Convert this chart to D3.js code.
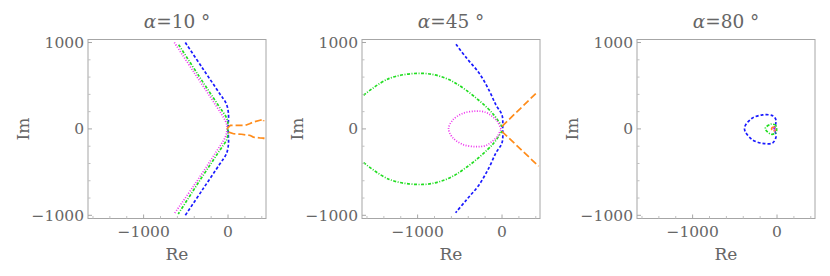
<!DOCTYPE html>
<html>
<head>
<meta charset="utf-8">
<script src="https://cdn.jsdelivr.net/npm/d3@7"></script>
<style>
  body { margin: 0; background: #fff; }
  text { font-family: "DejaVu Serif", serif; fill: #666; }
</style>
</head>
<body>
<div id="chart"></div>
<script>
// panel titles (angle in degrees)
const angles = [10, 45, 80];

const xTicks = [-1000, 0];
const yTicks = [-1000, 0, 1000];
const minorX = [-1600, -1400, -1200, -800, -600, -400, -200, 200, 400];
const minorY = [-800, -600, -400, -200, 200, 400, 600, 800];

// root loci, [Re, Im]
// alpha = 10
const blue10 = [[-506, 1000], [-300, 700], [-100, 410], [-20, 290], [5, 180], [4, 80], [0, 0], [4, -80], [5, -180], [-20, -290], [-100, -410], [-300, -700], [-506, -1000]];
const green10 = [[-585, 975], [-350, 620], [-120, 280], [-15, 120], [0, 40], [-5, 0], [0, -40], [-15, -120], [-120, -280], [-350, -620], [-590, -985]];
const magenta10 = [[-636, 1000], [-400, 650], [-150, 280], [-30, 90], [-12, 30], [-15, -30], [-30, -90], [-150, -280], [-400, -650], [-640, -985]];
const orange10 = [[-12, 2], [27, 41], [120, 42], [205, 41], [255, 60], [300, 79], [380, 100], [422, 110], [422, 90]];
const orange10b = [[7, -37], [66, -56], [160, -62], [264, -76], [300, -95], [380, -105], [422, -107], [422, -125]];

// alpha = 45
const blue45 = [[-545, 979], [-420, 820], [-269, 643], [-150, 440], [-71, 275], [0, 160], [8, 5], [0, -160], [-71, -275], [-150, -440], [-269, -643], [-420, -820], [-550, -970]];
const green45 = [[-1640, 390], [-1335, 585], [-940, 643], [-664, 585], [-427, 449], [-111, 179], [0, 24]];
const green45b = [[-1640, -390], [-1335, -585], [-940, -643], [-664, -585], [-427, -449], [-111, -179], [0, -24]];
const magenta45 = [[-12, 0], [-52, 82], [-111, 140], [-190, 191], [-308, 206], [-467, 179], [-585, 101], [-633, 5], [-585, -101], [-467, -179], [-308, -206], [-190, -191], [-111, -140], [-52, -82], [-12, 0]];
const orange45 = [[0, 30], [422, 430]];
const orange45b = [[0, -30], [434, -432]];

// alpha = 80
const blue80 = [[-20, 43], [-12, 102], [-52, 152], [-171, 162], [-300, 120], [-386, 5], [-300, -120], [-171, -167], [-52, -162], [-12, -92], [-20, -40], [-30, 0], [-20, 43]];
const green80 = [[-12, 43], [-71, 55], [-139, 5], [-71, -61], [-12, -45], [-5, 0], [-12, 43]];
const magenta80 = [[-40, 10], [-25, 5], [-30, -10], [-45, -5], [-40, 10]];
const orange80 = [[-55, 20], [-25, 18], [-20, -15], [-50, -20], [-65, 0], [-55, 20]];

const panels = [
  { series: [
      { pts: blue10, color: '#1a1aff', dash: '3,2' },
      { pts: green10, color: '#22dd22', dash: '3,1.5,1,1.5' },
      { pts: magenta10, color: '#ee33ee', dash: '1,1.6' },
      { pts: orange10, color: '#ff8c1a', dash: '7,3', curve: d3.curveLinear },
      { pts: orange10b, color: '#ff8c1a', dash: '7,3', curve: d3.curveLinear } ] },
  { series: [
      { pts: blue45, color: '#1a1aff', dash: '3,2' },
      { pts: green45, color: '#22dd22', dash: '3,1.5,1,1.5' },
      { pts: green45b, color: '#22dd22', dash: '3,1.5,1,1.5' },
      { pts: magenta45, color: '#ee33ee', dash: '1,1.6' },
      { pts: orange45, color: '#ff8c1a', dash: '7,3', curve: d3.curveLinear },
      { pts: orange45b, color: '#ff8c1a', dash: '7,3', curve: d3.curveLinear } ] },
  { series: [
      { pts: blue80, color: '#1a1aff', dash: '3,2' },
      { pts: green80, color: '#22dd22', dash: '3,1.5,1,1.5' },
      { pts: orange80, color: '#ff8c1a', dash: '3,1.5' },
      { pts: magenta80, color: '#ee33ee', dash: '1,1.2' } ] }
];

const width = 830;
const height = 276;
const frameLefts = [88, 362, 637];
const frameTop = 39.5;
const frameW = 178;
const frameH = 179;

const svg = d3.select('#chart')
  .append('svg')
  .attr('width', width)
  .attr('height', height);

const fmt = (d) => (d < 0 ? '\u2212' + Math.abs(d) : String(d));

panels.forEach((p, i) => {
  const left = frameLefts[i];
  const xScale = d3.scaleLinear().domain([-1659, 450]).range([left, left + frameW]);
  const yScale = d3.scaleLinear().domain([-1037, 1035]).range([frameTop + frameH, frameTop]);

  const g = svg.append('g');

  // clip so curves stay inside the frame
  const clipId = 'clip' + i;
  svg.append('clipPath').attr('id', clipId)
    .append('rect')
    .attr('x', left).attr('y', frameTop)
    .attr('width', frameW).attr('height', frameH);

  const lines = g.append('g').attr('clip-path', `url(#${clipId})`);
  p.series.forEach((s) => {
    const line = d3.line()
      .x((d) => xScale(d[0]))
      .y((d) => yScale(d[1]))
      .curve(s.curve || d3.curveCatmullRom.alpha(0.5));
    lines.append('path')
      .attr('d', line(s.pts))
      .attr('fill', 'none')
      .attr('stroke', s.color)
      .attr('stroke-width', 1.7)
      .attr('stroke-dasharray', s.dash);
  });

  // frame
  g.append('rect')
    .attr('x', left).attr('y', frameTop)
    .attr('width', frameW).attr('height', frameH)
    .attr('fill', 'none')
    .attr('stroke', '#a6a6a6')
    .attr('stroke-width', 1);

  // bottom axis, ticks inward
  const bottom = frameTop + frameH;
  g.selectAll('.xmaj').data(xTicks).join('line')
    .attr('x1', (d) => xScale(d)).attr('x2', (d) => xScale(d))
    .attr('y1', bottom).attr('y2', bottom - 4)
    .attr('stroke', '#a6a6a6');
  g.selectAll('.xmin').data(minorX).join('line')
    .attr('x1', (d) => xScale(d)).attr('x2', (d) => xScale(d))
    .attr('y1', bottom).attr('y2', bottom - 2.5)
    .attr('stroke', '#c0c0c0');
  g.selectAll('.xlab').data(xTicks).join('text')
    .attr('x', (d) => xScale(d))
    .attr('y', bottom + 18)
    .attr('text-anchor', 'middle')
    .attr('font-size', 15.5)
    .text(fmt);

  // left axis
  g.selectAll('.ymaj').data(yTicks).join('line')
    .attr('x1', left).attr('x2', left + 4)
    .attr('y1', (d) => yScale(d)).attr('y2', (d) => yScale(d))
    .attr('stroke', '#a6a6a6');
  g.selectAll('.ymin').data(minorY).join('line')
    .attr('x1', left).attr('x2', left + 2.5)
    .attr('y1', (d) => yScale(d)).attr('y2', (d) => yScale(d))
    .attr('stroke', '#c0c0c0');
  g.selectAll('.ylab').data(yTicks).join('text')
    .attr('x', left - 4)
    .attr('y', (d) => yScale(d))
    .attr('dy', '0.35em')
    .attr('text-anchor', 'end')
    .attr('font-size', 15.5)
    .text(fmt);

  // axis labels
  g.append('text')
    .attr('x', left + frameW / 2)
    .attr('y', 260)
    .attr('text-anchor', 'middle')
    .attr('font-size', 17)
    .text('Re');
  g.append('text')
    .attr('transform', `translate(${left - 59},${frameTop + frameH / 2}) rotate(-90)`)
    .attr('text-anchor', 'middle')
    .attr('font-size', 17)
    .text('Im');

  // title
  const title = g.append('text')
    .attr('x', left + frameW / 2)
    .attr('y', 28)
    .attr('text-anchor', 'middle')
    .attr('font-size', 18.5);
  title.append('tspan').attr('font-style', 'italic').text('\u03b1');
  title.append('tspan').text('=' + angles[i] + ' \u00b0');
});
</script>
</body>
</html>
